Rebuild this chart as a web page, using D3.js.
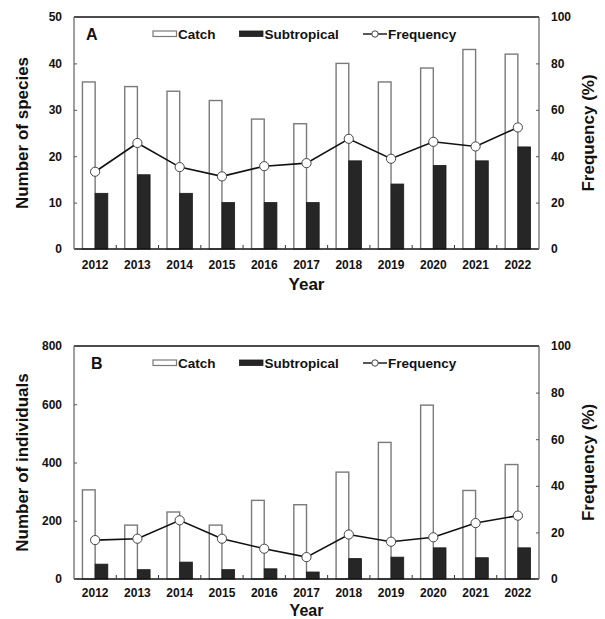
<!DOCTYPE html>
<html>
<head>
<meta charset="utf-8">
<script src="https://cdn.jsdelivr.net/npm/d3@7"></script>
<style>
  html, body { margin: 0; padding: 0; background: #fff; }
  svg { display: block; }
  text { font-family: "Liberation Sans", Arial, sans-serif; font-weight: bold; fill: #111; }
</style>
</head>
<body>
<svg id="chart" width="605" height="619"></svg>
<script>
// ---- data ----
const years = ["2012","2013","2014","2015","2016","2017","2018","2019","2020","2021","2022"];

const speciesCatch       = [36, 35, 34, 32, 28, 27, 40, 36, 39, 43, 42];
const speciesSubtropical = [12, 16, 12, 10, 10, 10, 19, 14, 18, 19, 22];
const speciesFrequency   = [33.3, 45.7, 35.3, 31.3, 35.7, 37.0, 47.5, 38.9, 46.2, 44.2, 52.4];

const indivCatch       = [306, 185, 230, 185, 270, 255, 367, 469, 597, 304, 393];
const indivSubtropical = [51, 32, 58, 32, 35, 24, 70, 75, 107, 73, 107];
const indivFrequency   = [16.7, 17.3, 25.2, 17.3, 13.0, 9.4, 19.1, 16.0, 17.9, 24.0, 27.2];

const speciesTicks = [0, 10, 20, 30, 40, 50];
const indivTicks   = [0, 200, 400, 600, 800];
const freqTicks    = [0, 20, 40, 60, 80, 100];

const legendLabels = ["Catch", "Subtropical", "Frequency"];

// ---- drawing ----
const svg = d3.select("#chart");

function drawPanel(opt) {
  const left = 74, right = 539, top = opt.top, bottom = opt.bottom;
  const g = svg.append("g");

  const x = d3.scaleBand().domain(years).range([left, right]).padding(0);
  const y = d3.scaleLinear().domain([0, opt.yMax]).range([bottom, top]);
  const yR = d3.scaleLinear().domain([0, 100]).range([bottom, top]);
  const bw = x.bandwidth() * 0.3;
  const cx = d => x(d) + x.bandwidth() / 2;

  // Catch bars
  g.selectAll(".catch").data(years).join("rect")
    .attr("x", (d) => cx(d) - bw)
    .attr("y", (d, i) => y(opt.catchV[i]))
    .attr("width", bw)
    .attr("height", (d, i) => bottom - y(opt.catchV[i]))
    .attr("fill", "#fff").attr("stroke", "#7a7a7a").attr("stroke-width", 1.4);

  // Subtropical bars
  g.selectAll(".sub").data(years).join("rect")
    .attr("x", (d) => cx(d))
    .attr("y", (d, i) => y(opt.subV[i]))
    .attr("width", bw)
    .attr("height", (d, i) => bottom - y(opt.subV[i]))
    .attr("fill", "#262626").attr("stroke", "#1a1a1a").attr("stroke-width", 0.8);

  // Frequency line
  const line = d3.line().x((d, i) => cx(years[i])).y(d => yR(d));
  g.append("path").datum(opt.freqV)
    .attr("d", line).attr("fill", "none").attr("stroke", "#111").attr("stroke-width", 1.6);
  g.selectAll(".pt").data(opt.freqV).join("circle")
    .attr("cx", (d, i) => cx(years[i])).attr("cy", d => yR(d)).attr("r", 4.6)
    .attr("fill", "#fff").attr("stroke", "#444").attr("stroke-width", 1);

  // Frame
  g.append("line").attr("x1", left).attr("x2", right).attr("y1", top).attr("y2", top)
    .attr("stroke", "#111").attr("stroke-width", 1.3);
  g.append("line").attr("x1", left).attr("x2", right).attr("y1", bottom).attr("y2", bottom)
    .attr("stroke", "#111").attr("stroke-width", 1.4);
  g.append("line").attr("x1", left).attr("x2", left).attr("y1", top).attr("y2", bottom)
    .attr("stroke", "#777").attr("stroke-width", 1.4);
  g.append("line").attr("x1", right).attr("x2", right).attr("y1", top).attr("y2", bottom)
    .attr("stroke", "#777").attr("stroke-width", 1.4);

  // Left axis
  const ax = g.append("g").attr("transform", `translate(${left},0)`)
    .call(d3.axisLeft(y).tickValues(opt.ticks).tickSizeInner(-3).tickSizeOuter(0).tickPadding(12));
  ax.select(".domain").remove();
  ax.selectAll("line").attr("stroke", "#555");
  ax.selectAll("text").style("font-size", "12px").attr("fill", "#111");

  // Right axis
  const axR = g.append("g").attr("transform", `translate(${right},0)`)
    .call(d3.axisRight(yR).tickValues(freqTicks).tickSizeInner(-3).tickSizeOuter(0).tickPadding(12));
  axR.select(".domain").remove();
  axR.selectAll("line").attr("stroke", "#555");
  axR.selectAll("text").style("font-size", "12px").attr("fill", "#111");

  // Bottom axis labels
  const axB = g.append("g").attr("transform", `translate(0,${bottom})`)
    .call(d3.axisBottom(x).tickSize(0).tickPadding(opt.xPad));
  axB.select(".domain").remove();
  axB.selectAll("text").style("font-size", "12px").attr("fill", "#111");
  // Boundary ticks (pointing up)
  g.selectAll(".bt").data(years.slice(1)).join("line")
    .attr("x1", d => x(d)).attr("x2", d => x(d))
    .attr("y1", bottom).attr("y2", bottom - 4)
    .attr("stroke", "#333").attr("stroke-width", 1);

  // Titles
  g.append("text").attr("x", (left + right) / 2).attr("y", opt.yearY)
    .attr("text-anchor", "middle").style("font-size", opt.yearSize).text("Year");
  g.append("text").attr("transform", `translate(28,${(top + bottom) / 2}) rotate(-90)`)
    .attr("text-anchor", "middle").style("font-size", "17px").text(opt.yLabel);
  g.append("text").attr("transform", `translate(594,${(top + bottom) / 2}) rotate(-90)`)
    .attr("text-anchor", "middle").style("font-size", "17px").text("Frequency (%)");

  // Panel letter
  g.append("text").attr("x", opt.letterX).attr("y", top + 23)
    .style("font-size", "16px").text(opt.letter);

  // Legend
  const ly = top + 17;
  g.append("rect").attr("x", 153).attr("y", ly - 3).attr("width", 23.5).attr("height", 5.5)
    .attr("fill", "#fff").attr("stroke", "#7a7a7a").attr("stroke-width", 1.2);
  g.append("text").attr("x", 178).attr("y", ly).attr("dy", "0.35em")
    .style("font-size", "13.5px").text(legendLabels[0]);
  g.append("rect").attr("x", 239.5).attr("y", ly - 3).attr("width", 23.5).attr("height", 5.5)
    .attr("fill", "#262626").attr("stroke", "#1a1a1a").attr("stroke-width", 0.8);
  g.append("text").attr("x", 264.5).attr("y", ly).attr("dy", "0.35em")
    .style("font-size", "13.5px").text(legendLabels[1]);
  g.append("line").attr("x1", 363).attr("x2", 387).attr("y1", ly).attr("y2", ly)
    .attr("stroke", "#111").attr("stroke-width", 1.4);
  g.append("circle").attr("cx", 375).attr("cy", ly).attr("r", 3.2)
    .attr("fill", "#fff").attr("stroke", "#444").attr("stroke-width", 1);
  g.append("text").attr("x", 388).attr("y", ly).attr("dy", "0.35em")
    .style("font-size", "13.5px").text(legendLabels[2]);
}

drawPanel({
  top: 17, bottom: 249, yMax: 50, ticks: speciesTicks,
  catchV: speciesCatch, subV: speciesSubtropical, freqV: speciesFrequency,
  yLabel: "Number of species", letter: "A", letterX: 86, yearY: 290,
  xPad: 11, yearSize: "17px"
});

drawPanel({
  top: 346, bottom: 579, yMax: 800, ticks: indivTicks,
  catchV: indivCatch, subV: indivSubtropical, freqV: indivFrequency,
  yLabel: "Number of individuals", letter: "B", letterX: 91, yearY: 616,
  xPad: 9.5, yearSize: "16px"
});
</script>
</body>
</html>
